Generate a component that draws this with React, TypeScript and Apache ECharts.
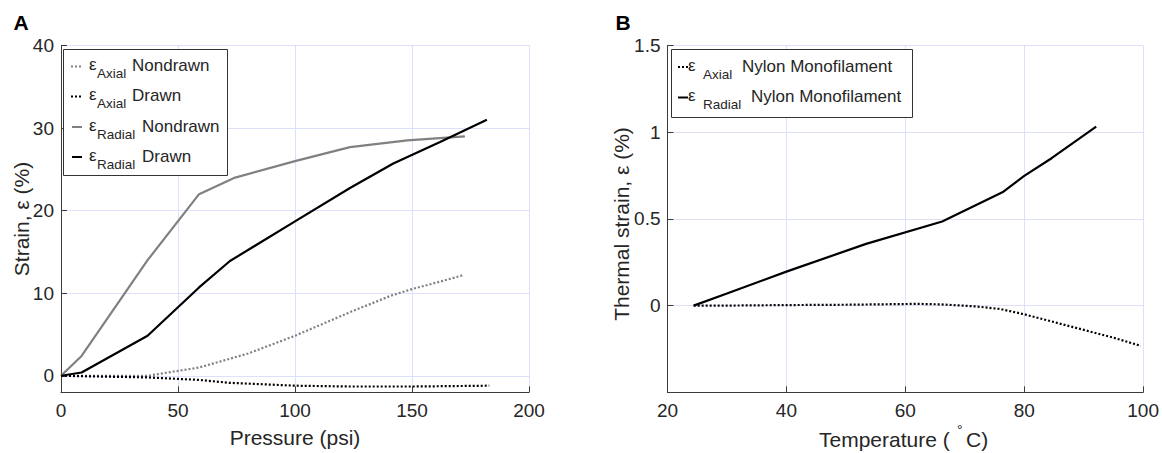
import React, { useEffect, useRef } from "react";
import * as echarts from "echarts";

// Panel A: strain vs pressure
const radialNondrawnP = [0, 8.8, 37, 59, 74.4, 100, 123.5, 148, 172.6];
const radialNondrawnS = [0, 2.4, 14, 22, 24, 26, 27.7, 28.5, 29];
const radialDrawnP = [0, 8.8, 37, 59, 72.2, 100, 123.5, 142, 162, 182];
const radialDrawnS = [0, 0.4, 4.85, 10.7, 13.9, 18.7, 22.75, 25.7, 28.3, 31.0];
const axialNondrawnP = [0, 37, 59, 80, 100, 123.5, 141, 150, 162, 172];
const axialNondrawnS = [0, 0, 1.0, 2.7, 4.85, 7.7, 9.7, 10.5, 11.4, 12.2];
const axialDrawnP = [0, 37, 59, 72, 100, 123.5, 150, 183];
const axialDrawnS = [0, -0.2, -0.5, -0.85, -1.2, -1.3, -1.3, -1.2];
const strainTicks = [0, 10, 20, 30, 40];

// Panel B: thermal strain vs temperature
const radialNylonT = [24.4, 30, 40, 53.4, 66.2, 76.5, 80, 84.6, 92.1];
const radialNylonS = [0, 0.07, 0.196, 0.356, 0.485, 0.657, 0.748, 0.85, 1.032];
const axialNylonT = [24.4, 30, 40, 50, 55, 62, 66, 72, 76, 80, 85, 90, 95, 99.6];
const axialNylonS = [0, 0, 0.003, 0.005, 0.007, 0.01, 0.007, -0.005, -0.02, -0.05, -0.095, -0.14, -0.185, -0.232];
const thermalTicks = [0, 0.5, 1, 1.5];

const FONT = "Liberation Sans, Arial, Helvetica, sans-serif";
const GRID = "#dde0fa";
const AXIS = "#3a3a3a";
const TXT = "#262626";
const GRAY = "#808080";

const zip = (a: number[], b: number[]) => a.map((v, i) => [v, b[i]]);

function legendRow(
  x: number, y: number, lineColor: string, dotted: boolean,
  eX: number, subX: number, restX: number, sub: string, rest: string
) {
  return [
    {
      type: "line", z: 101,
      shape: { x1: x, y1: y + 1, x2: x + 10, y2: y + 1 },
      style: { stroke: lineColor, lineWidth: 2, lineDash: dotted ? [2, 2] : null },
    },
    { type: "text", z: 101, x: eX, y: y - 1, style: { text: "ε", font: `17px ${FONT}`, fill: TXT, textVerticalAlign: "middle" } },
    { type: "text", z: 101, x: subX, y: y + 8, style: { text: sub, font: `13.5px ${FONT}`, fill: TXT, textVerticalAlign: "middle" } },
    { type: "text", z: 101, x: restX, y: y, style: { text: rest, font: `17px ${FONT}`, fill: TXT, textVerticalAlign: "middle" } },
  ];
}

export default function App() {
  const ref = useRef<HTMLDivElement>(null);
  useEffect(() => {
    document.body.style.margin = "0";
    if (!ref.current) return;
    const chart = echarts.init(ref.current, undefined, { renderer: "svg" });
    const axisCommon = {
      type: "value",
      axisLine: { show: true, onZero: false, lineStyle: { color: AXIS, width: 1 } },
      axisTick: { show: true, inside: true, length: 6, lineStyle: { color: AXIS } },
      splitLine: { show: true, lineStyle: { color: GRID, width: 1 } },
      axisLabel: { color: TXT, fontSize: 19, fontFamily: FONT },
    };
    const graphic: any[] = [
      { type: "text", x: 21, y: 22, style: { text: "A", font: `bold 21px ${FONT}`, fill: "#000", textAlign: "center", textVerticalAlign: "middle" } },
      { type: "text", x: 623, y: 22, style: { text: "B", font: `bold 21px ${FONT}`, fill: "#000", textAlign: "center", textVerticalAlign: "middle" } },
      { type: "text", x: 21, y: 219, rotation: Math.PI / 2, style: { text: "Strain, ε (%)", font: `21px ${FONT}`, fill: TXT, textAlign: "center", textVerticalAlign: "middle" } },
      { type: "text", x: 621, y: 224, rotation: Math.PI / 2, style: { text: "Thermal strain, ε (%)", font: `21px ${FONT}`, fill: TXT, textAlign: "center", textVerticalAlign: "middle" } },
      { type: "text", x: 295, y: 437, style: { text: "Pressure (psi)", font: `21px ${FONT}`, fill: TXT, textAlign: "center", textVerticalAlign: "middle" } },
      { type: "text", x: 819, y: 439, style: { text: "Temperature (", font: `21px ${FONT}`, fill: TXT, textAlign: "left", textVerticalAlign: "middle" } },
      { type: "text", x: 957, y: 430, style: { text: "°", font: `14px ${FONT}`, fill: TXT, textAlign: "left", textVerticalAlign: "middle" } },
      { type: "text", x: 966, y: 439, style: { text: "C)", font: `21px ${FONT}`, fill: TXT, textAlign: "left", textVerticalAlign: "middle" } },
      // legend A box
      { type: "rect", z: 100, shape: { x: 63.5, y: 49.5, width: 164, height: 126 }, style: { fill: "#fff", stroke: "#333", lineWidth: 1 } },
      ...legendRow(71, 65.5, GRAY, true, 89, 97, 132, "Axial", "Nondrawn"),
      ...legendRow(71, 95.5, "#000", true, 89, 97, 132, "Axial", "Drawn"),
      ...legendRow(72, 126, GRAY, false, 89, 97, 142, "Radial", "Nondrawn"),
      ...legendRow(72, 156, "#000", false, 89, 97, 142, "Radial", "Drawn"),
      // legend B box
      { type: "rect", z: 100, shape: { x: 671.5, y: 49.5, width: 241, height: 68 }, style: { fill: "#fff", stroke: "#333", lineWidth: 1 } },
      ...legendRow(678, 66, "#000", true, 688, 703, 742, "Axial", "Nylon Monofilament"),
      ...legendRow(678, 96.5, "#000", false, 688, 703, 751, "Radial", "Nylon Monofilament"),
    ];
    chart.setOption({
      animation: false,
      grid: [
        { left: 61, top: 45.5, width: 468, height: 346.8, containLabel: false },
        { left: 667.5, top: 45.5, width: 479, height: 346.8, containLabel: false },
      ],
      xAxis: [
        { ...axisCommon, gridIndex: 0, min: 0, max: 200, interval: 50, axisLabel: { ...axisCommon.axisLabel, margin: 9 } },
        { ...axisCommon, gridIndex: 1, min: 20, max: 100, interval: 20, axisLabel: { ...axisCommon.axisLabel, margin: 9 } },
      ],
      yAxis: [
        {
          ...axisCommon, gridIndex: 0, min: -2, max: 40,
          axisLabel: { ...axisCommon.axisLabel, margin: 7, customValues: strainTicks },
          axisTick: { ...axisCommon.axisTick, customValues: strainTicks },
        },
        {
          ...axisCommon, gridIndex: 1, min: -0.5, max: 1.5,
          axisLabel: { ...axisCommon.axisLabel, margin: 7, customValues: thermalTicks },
          axisTick: { ...axisCommon.axisTick, customValues: thermalTicks },
        },
      ],
      series: [
        { type: "line", xAxisIndex: 0, yAxisIndex: 0, data: zip(axialNondrawnP, axialNondrawnS), showSymbol: false, lineStyle: { color: GRAY, width: 2.2, type: [2, 2] } },
        { type: "line", xAxisIndex: 0, yAxisIndex: 0, data: zip(axialDrawnP, axialDrawnS), showSymbol: false, lineStyle: { color: "#000", width: 2.2, type: [2, 2] } },
        { type: "line", xAxisIndex: 0, yAxisIndex: 0, data: zip(radialNondrawnP, radialNondrawnS), showSymbol: false, lineStyle: { color: GRAY, width: 2.2 } },
        { type: "line", xAxisIndex: 0, yAxisIndex: 0, data: zip(radialDrawnP, radialDrawnS), showSymbol: false, lineStyle: { color: "#000", width: 2.2 } },
        { type: "line", xAxisIndex: 1, yAxisIndex: 1, data: zip(axialNylonT, axialNylonS), showSymbol: false, lineStyle: { color: "#000", width: 2.2, type: [2, 2] } },
        { type: "line", xAxisIndex: 1, yAxisIndex: 1, data: zip(radialNylonT, radialNylonS), showSymbol: false, lineStyle: { color: "#000", width: 2.2 } },
      ],
      graphic,
    });
    return () => chart.dispose();
  }, []);
  return <div ref={ref} style={{ width: 1162, height: 453 }} />;
}
